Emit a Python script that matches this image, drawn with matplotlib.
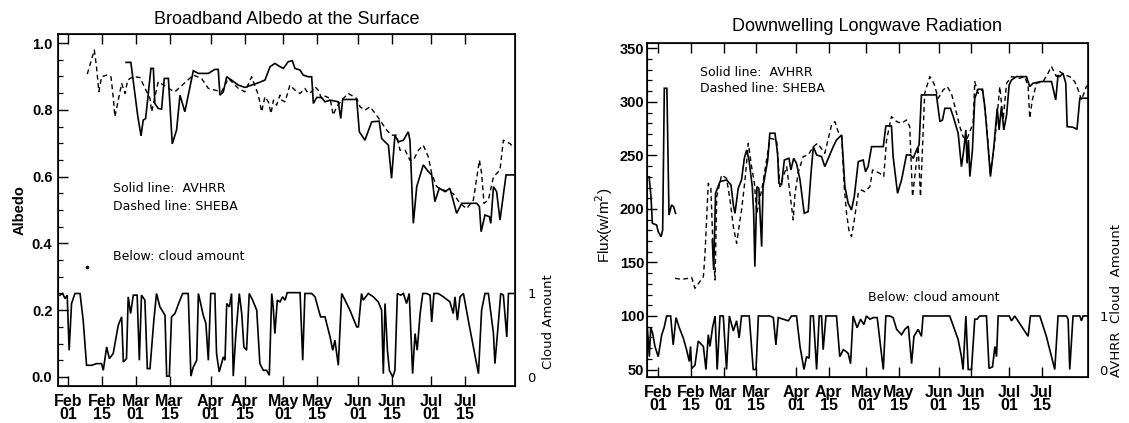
import numpy as np
import matplotlib
matplotlib.use('Agg')
import matplotlib.pyplot as plt
from matplotlib.ticker import MultipleLocator, FixedLocator, NullLocator

# ---------------- data (day of year 1998) ----------------
tick_days = [32, 46, 60, 74, 91, 105, 121, 135, 152, 166, 182, 196]
tick_labels = ['Feb\n01', 'Feb\n15', 'Mar\n01', 'Mar\n15', 'Apr\n01', 'Apr\n15',
               'May\n01', 'May\n15', 'Jun\n01', 'Jun\n15', 'Jul\n01', 'Jul\n15']

# Albedo, AVHRR (solid)
avhrr_alb_day = [56.0, 58.0, 60.8, 62.2, 63.1, 64.1, 66.3, 67.3, 67.9, 69.3,
                 70.7, 71.8, 73.5, 75.1, 76.9, 78.3, 80.3, 83.8, 85.9, 90.0,
                 92.7, 94.1, 94.8, 96.2, 97.6, 99.6, 102.4, 105.1, 107.9, 110.7,
                 113.4, 115.5, 117.5, 119.2, 121.0, 123.0, 124.7, 125.8, 127.9, 129.2,
                 131.3, 132.7, 133.4, 134.8, 136.8, 138.2, 140.3, 143.7, 144.7, 145.5,
                 151.3, 152.4, 154.7, 157.5, 160.6, 161.6, 164.4, 165.7, 167.1, 168.5,
                 170.6, 172.6, 173.3, 174.7, 176.1, 178.8, 180.9, 182.3, 183.6, 185.4,
                 187.8, 189.8, 192.6, 194.7, 200.9, 202.0, 202.7, 204.3, 206.1, 206.7,
                 207.8, 209.1, 210.5, 213.0, 216.7]
avhrr_alb = [0.942, 0.942, 0.784, 0.722, 0.769, 0.774, 0.924, 0.924, 0.819, 0.804,
             0.802, 0.894, 0.894, 0.698, 0.740, 0.844, 0.794, 0.917, 0.909, 0.909,
             0.921, 0.921, 0.844, 0.854, 0.899, 0.889, 0.874, 0.867, 0.874, 0.881,
             0.889, 0.929, 0.939, 0.931, 0.924, 0.944, 0.947, 0.924, 0.919, 0.904,
             0.899, 0.899, 0.819, 0.837, 0.837, 0.824, 0.829, 0.824, 0.774, 0.831,
             0.831, 0.734, 0.709, 0.764, 0.766, 0.714, 0.694, 0.595, 0.724, 0.704,
             0.709, 0.734, 0.709, 0.460, 0.570, 0.635, 0.615, 0.605, 0.525, 0.565,
             0.555, 0.565, 0.490, 0.520, 0.520, 0.510, 0.435, 0.485, 0.480, 0.460,
             0.570, 0.555, 0.470, 0.605, 0.605]

# Albedo, SHEBA (dashed)
sheba_alb_day = [40.0, 42.9, 43.8, 44.8, 45.9, 48.0, 49.8, 50.7, 51.4, 52.8,
                 54.2, 55.6, 56.7, 58.8, 61.7, 65.9, 66.6, 69.3, 74.8, 76.2,
                 83.8, 87.2, 90.0, 95.5, 98.3, 102.4, 105.1, 107.9, 110.7, 112.0,
                 113.4, 114.8, 115.9, 116.9, 118.2, 119.6, 120.3, 121.7, 123.7, 125.8,
                 127.9, 129.9, 131.3, 132.7, 134.0, 135.4, 136.8, 138.2, 140.3, 141.6,
                 143.0, 145.1, 147.8, 151.3, 152.7, 154.7, 156.8, 159.5, 160.9, 163.7,
                 165.7, 167.8, 169.2, 171.3, 173.3, 174.7, 176.8, 178.8, 180.9, 182.3,
                 184.3, 187.1, 191.2, 194.0, 196.7, 199.5, 202.0, 202.9, 203.9, 205.7,
                 207.8, 210.5, 211.9, 214.6, 216.0]
sheba_alb = [0.907, 0.979, 0.929, 0.854, 0.899, 0.904, 0.899, 0.839, 0.779, 0.829,
             0.879, 0.849, 0.889, 0.899, 0.897, 0.834, 0.794, 0.884, 0.859, 0.854,
             0.904, 0.894, 0.864, 0.854, 0.894, 0.864, 0.854, 0.899, 0.844, 0.794,
             0.839, 0.824, 0.789, 0.829, 0.814, 0.844, 0.829, 0.824, 0.874, 0.859,
             0.849, 0.864, 0.849, 0.854, 0.869, 0.859, 0.834, 0.841, 0.834, 0.784,
             0.809, 0.829, 0.849, 0.834, 0.809, 0.799, 0.809, 0.784, 0.769, 0.739,
             0.724, 0.724, 0.679, 0.679, 0.649, 0.649, 0.679, 0.694, 0.659, 0.609,
             0.570, 0.560, 0.549, 0.520, 0.504, 0.530, 0.649, 0.610, 0.520, 0.530,
             0.599, 0.620, 0.709, 0.699, 0.689]
stray_day = [40.0]
stray_alb = [0.33]

# Cloud amount under the albedo panel (AVHRR, 0..1)
cloud_l_day = [28.7, 29.8, 30.8, 31.7, 32.5, 33.5, 34.9, 37.0, 38.3, 39.7,
               41.8, 43.8, 45.9, 46.6, 48.0, 49.1, 50.7, 52.8, 54.2, 54.9,
               56.2, 56.9, 57.9, 59.0, 60.6, 61.5, 62.4, 63.8, 64.8, 65.9,
               67.5, 68.6, 70.0, 72.1, 72.8, 73.9, 74.8, 76.2, 78.0, 79.4,
               81.7, 82.8, 83.8, 85.2, 85.9, 87.9, 89.0, 90.0, 91.0, 92.7,
               93.4, 94.5, 96.2, 96.9, 97.6, 98.7, 99.6, 100.3, 101.4, 102.8,
               103.8, 104.7, 105.8, 106.9, 108.3, 110.0, 111.3, 112.7, 114.1, 115.2,
               116.2, 116.8, 117.5, 118.5, 119.6, 120.7, 121.7, 122.6, 127.9, 129.0,
               129.9, 132.7, 134.1, 135.4, 136.4, 138.2, 140.3, 141.4, 142.3, 143.7,
               145.1, 146.5, 148.5, 151.3, 152.0, 153.3, 154.0, 156.1, 158.2, 160.2,
               161.6, 162.3, 163.0, 164.0, 164.8, 166.2, 167.1, 168.1, 169.5, 170.6,
               171.9, 173.0, 174.4, 175.4, 176.3, 177.5, 178.6, 180.2, 181.6, 182.3,
               183.2, 185.0, 187.1, 189.8, 191.2, 191.9, 192.9, 194.0, 195.4, 197.4,
               199.5, 201.6, 202.9, 204.3, 205.7, 207.8, 208.4, 209.8, 210.8, 211.9,
               213.3, 214.0, 216.0]
cloud_l = [0.98, 1.00, 0.94, 0.98, 0.32, 0.88, 1.00, 1.00, 0.68, 0.14,
           0.14, 0.16, 0.16, 0.08, 0.36, 0.22, 0.28, 0.62, 0.72, 0.18,
           0.22, 0.96, 0.76, 0.98, 0.98, 0.20, 0.98, 0.92, 0.10, 0.10,
           0.68, 1.00, 0.84, 0.74, 0.01, 0.01, 0.72, 0.76, 0.90, 1.00,
           1.00, 0.01, 0.12, 0.20, 1.00, 0.74, 0.64, 0.20, 1.00, 1.00,
           0.28, 0.06, 0.24, 0.20, 0.88, 0.84, 1.00, 0.01, 0.52, 1.00,
           0.76, 0.36, 0.32, 1.00, 0.92, 0.80, 0.16, 0.08, 0.08, 0.02,
           1.00, 0.84, 0.52, 0.92, 0.90, 0.96, 0.92, 1.01, 1.01, 0.20,
           1.00, 1.00, 0.96, 0.82, 0.72, 0.72, 0.48, 0.32, 0.44, 0.14,
           1.00, 0.92, 0.80, 0.60, 0.60, 1.00, 0.92, 1.00, 0.96, 0.90,
           0.80, 0.04, 0.88, 0.32, 0.08, 0.00, 0.08, 1.00, 0.98, 1.00,
           0.88, 1.00, 0.04, 0.52, 0.32, 0.76, 1.00, 1.00, 0.98, 0.66,
           1.00, 1.00, 0.96, 0.90, 0.76, 0.96, 0.68, 0.96, 1.00, 0.68,
           0.36, 0.04, 0.80, 1.00, 1.00, 0.52, 0.16, 0.64, 1.00, 0.98,
           0.48, 1.00, 1.00]

# Downwelling longwave, AVHRR (solid); NaN = data gap
avhrr_lw_day = [28.2, 29.0, 29.6, 31.4, 32.1, 33.3, 34.0, 34.7, 35.8, 36.7,
                37.8, 38.7, 39.5, 47.0,
                55.2, 55.8, 56.6, 58.5, 61.3, 63.2, 64.2, 64.9, 66.3, 67.7,
                68.9, 69.9, 70.9, 72.3, 72.9, 73.4, 74.3, 75.1, 76.3, 76.9,
                78.9, 79.8, 82.0, 83.1, 83.7, 84.8, 86.0, 88.0, 88.8, 90.0,
                91.2, 92.7, 94.5, 96.2, 97.4, 98.4, 99.8, 101.9, 103.3, 104.8,
                106.9, 108.3, 110.5, 111.9, 113.3, 114.7, 115.9, 117.6, 119.7, 120.7,
                121.8, 123.3, 124.3, 128.3, 129.4, 131.8, 132.5, 134.4, 136.1, 138.2,
                140.0, 141.1, 142.5, 143.6, 144.6, 151.0, 152.5, 153.6, 154.6, 157.0,
                158.2, 160.3, 161.7, 162.7, 163.6, 164.1, 164.7, 165.3, 166.4, 167.4,
                168.8, 170.7, 171.7, 173.1, 174.1, 175.5, 177.0, 177.8, 178.8, 179.8,
                181.0, 182.1, 183.1, 185.2, 189.5, 190.9, 192.3, 195.9, 200.2, 202.0,
                203.0, 203.7, 205.1, 206.3, 206.9, 209.4, 211.1, 212.3, 216.5]
avhrr_lw = [230.0, 211.5, 186.6, 185.0, 178.8, 174.1, 180.3, 312.7, 312.7, 194.4,
            203.7, 202.0, 195.9, np.nan,
            171.0, 142.9, 214.6, 225.5, 227.1, 222.4, 203.7, 195.9, 219.3, 227.1,
            247.3, 255.1, 245.7, 220.8, 195.9, 146.1, 220.8, 219.3, 164.8, 220.8,
            245.7, 270.7, 270.7, 252.0, 223.9, 222.4, 245.7, 247.3, 236.4, 247.3,
            242.6, 227.1, 195.9, 197.5, 233.3, 258.2, 250.4, 248.9, 239.5, 247.3,
            258.2, 264.4, 269.1, 220.8, 205.3, 199.0, 211.5, 244.2, 245.7, 234.8,
            239.5, 258.2, 258.2, 258.2, 277.5, 277.5, 248.9, 214.6, 227.1, 250.4,
            250.4, 247.3, 255.1, 259.8, 306.5, 306.5, 281.6, 283.1, 294.0, 294.0,
            286.3, 270.7, 239.5, 255.1, 273.8, 242.6, 264.4, 230.2, 255.1, 303.4,
            311.8, 311.8, 295.6, 258.2, 230.2, 256.7, 294.0, 273.8, 295.6, 273.8,
            287.8, 315.8, 320.5, 323.6, 323.6, 314.3, 317.4, 319.0, 319.0, 301.8,
            325.0, 323.6, 326.7, 317.4, 276.9, 276.3, 274.4, 303.4, 303.4]

# Downwelling longwave, SHEBA (dashed)
sheba_lw_day = [39.3, 42.1, 45.0, 46.4, 47.8, 51.4, 52.1, 53.5, 54.6, 55.6,
                56.4, 57.1, 59.2, 61.3, 62.8, 64.2, 65.6, 67.7, 69.2, 70.6,
                72.0, 73.2, 74.2, 76.6, 79.9, 82.7, 84.1, 87.0, 89.8, 90.5,
                92.0, 94.1, 96.2, 98.4, 100.2, 103.3, 106.2, 107.6, 109.0, 110.5,
                111.6, 112.6, 113.6, 114.7, 115.9, 117.6, 119.0, 120.4, 122.6, 123.7,
                126.8, 128.5, 129.7, 131.8, 134.0, 136.1, 138.2, 139.6, 140.8, 143.2,
                144.2, 146.0, 148.2, 149.9, 151.8, 153.9, 155.6, 157.4, 158.9, 161.0,
                162.4, 163.9, 166.7, 167.4, 168.8, 170.7, 172.4, 174.1, 176.0, 178.1,
                179.5, 181.0, 183.1, 186.6, 188.8, 190.2, 190.9, 192.0, 193.8, 196.6,
                198.7, 200.2, 202.3, 203.7, 205.9, 208.0, 210.1, 211.6, 213.0, 215.1,
                216.5]
sheba_lw = [135.2, 134.2, 135.2, 136.1, 125.8, 136.7, 158.5, 224.0, 219.3, 158.5,
            133.6, 211.5, 231.7, 228.6, 208.4, 183.4, 167.9, 199.0, 227.1, 261.3,
            239.5, 224.0, 195.9, 220.8, 266.0, 264.4, 220.8, 239.5, 189.7, 213.0,
            234.8, 248.9, 250.4, 258.2, 261.3, 252.0, 278.5, 281.6, 272.2, 267.6,
            220.8, 195.9, 180.3, 174.1, 189.7, 214.6, 217.7, 216.1, 220.8, 236.4,
            233.3, 230.2, 264.4, 286.3, 281.6, 280.0, 283.1, 276.9, 211.5, 258.2,
            211.5, 308.0, 323.6, 317.4, 303.4, 311.2, 314.3, 308.0, 295.6, 276.9,
            267.6, 264.4, 280.0, 319.0, 308.0, 311.2, 280.0, 233.3, 264.4, 314.3,
            283.1, 317.4, 323.6, 322.1, 323.6, 314.3, 284.7, 301.8, 317.4, 319.0,
            326.7, 333.0, 323.6, 328.3, 325.2, 323.6, 319.0, 311.2, 301.8, 314.3,
            315.8]

# Cloud amount under the longwave panel (AVHRR, 0..1)
cloud_r_day = [27.4, 28.3, 28.9, 29.7, 30.7, 32.1, 33.6, 34.6, 35.7, 37.4,
               38.5, 39.7, 41.1, 42.8, 44.2, 45.4, 45.9, 46.4, 47.8, 49.2,
               51.4, 52.5, 53.5, 54.2, 55.3, 56.4, 57.3, 58.5, 59.9, 61.3,
               62.5, 64.2, 65.6, 66.7, 67.7, 71.0, 72.7, 73.9, 74.9, 79.8,
               81.3, 82.4, 83.4, 85.5, 87.7, 89.1, 91.2, 92.7, 94.4, 95.5,
               96.6, 97.2, 98.4, 99.8, 100.9, 101.9, 102.6, 103.8, 106.2, 108.3,
               109.7, 111.2, 112.3, 113.3, 114.3, 115.4, 117.1, 118.6, 120.0, 121.1,
               122.6, 124.0, 125.7, 128.3, 129.4, 131.1, 132.5, 134.0, 136.1, 137.5,
               139.0, 140.4, 141.4, 143.2, 144.6, 145.3, 156.7, 160.3, 161.7, 162.4,
               163.6, 164.6, 166.0, 167.4, 168.4, 169.5, 172.4, 173.5, 175.0, 176.0,
               176.7, 177.4, 182.1, 183.1, 184.5, 190.2, 191.2, 195.2, 198.0, 201.6,
               203.0, 206.6, 207.3, 208.0, 209.4, 212.3, 213.0, 213.7, 215.8]
cloud_r = [0.81, 0.24, 0.78, 0.68, 0.43, 0.24, 0.65, 0.78, 1.00, 1.00,
           0.46, 0.97, 0.78, 0.59, 0.37, 0.15, 0.43, 0.02, 0.08, 0.53,
           0.43, 0.00, 0.65, 0.43, 0.78, 1.00, 0.00, 1.00, 1.00, 0.00,
           1.00, 0.72, 0.91, 0.59, 1.00, 1.00, 0.00, 0.00, 1.00, 1.00,
           0.97, 0.46, 0.97, 0.94, 0.91, 1.00, 1.00, 0.43, 0.00, 0.24,
           0.21, 1.00, 1.00, 0.00, 1.00, 1.00, 0.37, 1.00, 1.00, 1.00,
           0.24, 0.37, 0.34, 0.30, 0.11, 1.00, 0.78, 0.94, 0.84, 1.00,
           0.94, 0.97, 0.97, 0.00, 1.00, 1.00, 0.97, 0.75, 0.65, 0.75,
           0.81, 0.11, 0.62, 0.75, 0.62, 1.00, 1.00, 0.56, 0.24, 0.00,
           1.00, 0.00, 0.00, 0.94, 0.94, 1.00, 1.00, 0.02, 0.05, 0.43,
           0.24, 1.00, 1.00, 0.91, 1.00, 0.62, 1.00, 1.00, 0.62, 0.00,
           1.00, 1.00, 0.94, 0.00, 1.00, 1.00, 0.91, 1.00, 1.00]

# ---------------- figure ----------------
W, H = 1129, 423
fig = plt.figure(figsize=(W / 100, H / 100), dpi=100)
fig.patch.set_facecolor('white')

def box(x0, y0, x1, y1):
    return [x0 / W, 1 - y1 / H, (x1 - x0) / W, (y1 - y0) / H]

TICKFONT = ['Liberation Sans Narrow', 'Liberation Sans', 'DejaVu Sans']
LBLFONT = ['Liberation Sans', 'DejaVu Sans']
solid_kw = dict(color='black', lw=1.2, solid_joinstyle='miter')
dash_kw = dict(color='black', lw=1.0, linestyle=(0, (3.5, 2.5)))

def style(ax, xlim, ylim, ymaj, ymin, ypad):
    ax.set_xlim(*xlim)
    ax.set_ylim(*ylim)
    ax.set_xticks(tick_days)
    ax.set_xticklabels(tick_labels, fontfamily=TICKFONT, fontweight='bold',
                       fontsize=11.5, linespacing=0.78)
    ax.xaxis.set_minor_locator(NullLocator())
    ax.yaxis.set_major_locator(MultipleLocator(ymaj))
    ax.yaxis.set_minor_locator(MultipleLocator(ymin))
    ax.tick_params(axis='x', which='major', direction='in', top=True, bottom=True,
                   length=7, width=1.0, pad=6)
    ax.tick_params(axis='y', which='major', direction='in', left=True, right=True,
                   length=7, width=1.0, pad=ypad, labelsize=10.5)
    ax.tick_params(axis='y', which='minor', direction='in', left=True, right=True,
                   length=3.5, width=0.9)
    for lab in ax.get_yticklabels():
        lab.set_fontweight('bold')
        lab.set_fontfamily(LBLFONT)
    for s in ax.spines.values():
        s.set_linewidth(1.2)

# ---- left panel: albedo ----
ax1 = fig.add_axes(box(58, 34, 515, 386))
ax1.plot(avhrr_alb_day, avhrr_alb, **solid_kw)
ax1.plot(sheba_alb_day, sheba_alb, **dash_kw)
ax1.plot(stray_day, stray_alb, 'o', color='black', ms=1.6)
style(ax1, (27.9, 216.7), (-0.027, 1.027), 0.2, 0.05, 4)
ax1.yaxis.set_major_formatter(matplotlib.ticker.FormatStrFormatter('%.1f'))
for lab in ax1.get_yticklabels():
    lab.set_fontweight('bold')

t1 = ax1.twinx()
t1.plot(cloud_l_day, cloud_l, **solid_kw)
t1.set_ylim(-0.027 / 0.25, 1.027 / 0.25)
t1.yaxis.set_major_locator(FixedLocator([0, 1]))
t1.yaxis.set_minor_locator(NullLocator())
t1.tick_params(axis='y', length=0, pad=9, labelsize=9.5)
t1.set_yticklabels(['0', '1'], fontfamily=['DejaVu Sans'])

ax1.set_title('Broadband Albedo at the Surface', fontsize=13, fontfamily=LBLFONT, pad=7)
fig.text(20 / W, 1 - 210 / H, 'Albedo', rotation=90, ha='center', va='center',
         fontsize=10.5, fontweight='bold', fontfamily=LBLFONT)
fig.text(548 / W, 1 - 322 / H, 'Cloud Amount', rotation=90, ha='center', va='center',
         fontsize=9.5, fontfamily='DejaVu Sans')
fig.text(113 / W, 1 - 188 / H, 'Solid line:  AVHRR', ha='left', va='center',
         fontsize=9, fontfamily='DejaVu Sans')
fig.text(113 / W, 1 - 207 / H, 'Dashed line: SHEBA', ha='left', va='center',
         fontsize=9, fontfamily='DejaVu Sans')
fig.text(113 / W, 1 - 256 / H, 'Below: cloud amount', ha='left', va='center',
         fontsize=9, fontfamily='DejaVu Sans')

# ---- right panel: longwave ----
ax2 = fig.add_axes(box(647, 43, 1088, 377))
ax2.plot(avhrr_lw_day, avhrr_lw, **solid_kw)
ax2.plot(sheba_lw_day, sheba_lw, **dash_kw)
style(ax2, (27.3, 215.8), (43, 355), 50, 10, 2)

t2 = ax2.twinx()
t2.plot(cloud_r_day, cloud_r, **solid_kw)
t2.set_ylim((43 - 50) / 50, (355 - 50) / 50)
t2.yaxis.set_major_locator(FixedLocator([0, 1]))
t2.yaxis.set_minor_locator(NullLocator())
t2.tick_params(axis='y', length=0, pad=8, labelsize=9.5)
t2.set_yticklabels(['0', '1'], fontfamily=['DejaVu Sans'])

ax2.set_title('Downwelling Longwave Radiation', fontsize=13, fontfamily=LBLFONT, pad=9)
fig.text(604 / W, 1 - 225 / H, 'Flux(w/m$^2$)', rotation=90, ha='center', va='center',
         fontsize=11, fontfamily=LBLFONT)
fig.text(1117 / W, 1 - 300 / H, 'AVHRR  Cloud  Amount', rotation=90, ha='center',
         va='center', fontsize=9.5, fontfamily='DejaVu Sans')
fig.text(700 / W, 1 - 73 / H, 'Solid line:  AVHRR', ha='left', va='center',
         fontsize=9, fontfamily='DejaVu Sans')
fig.text(700 / W, 1 - 88 / H, 'Dashed line: SHEBA', ha='left', va='center',
         fontsize=9, fontfamily='DejaVu Sans')
fig.text(868 / W, 1 - 297 / H, 'Below: cloud amount', ha='left', va='center',
         fontsize=9, fontfamily='DejaVu Sans')

fig.savefig('out.png', dpi=100, facecolor='white')
